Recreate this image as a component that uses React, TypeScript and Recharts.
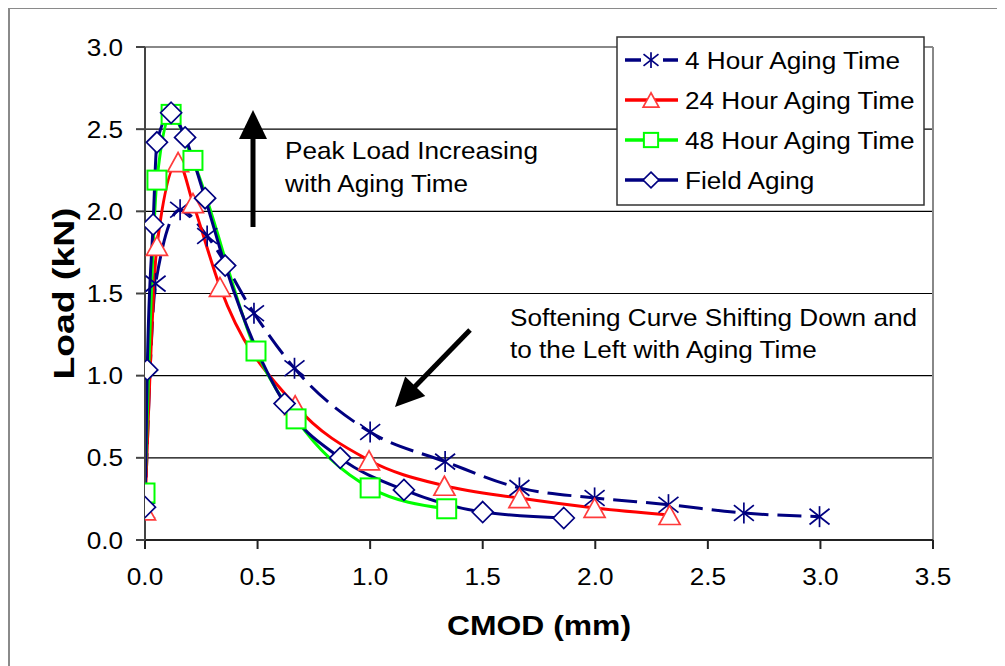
import { LineChart, Line, XAxis, YAxis, CartesianGrid, ReferenceLine } from 'recharts'

// CMOD (mm) vs Load (kN)
const fourHour = [
  { x: 0.0, y: 0.18 },
  { x: 0.047, y: 1.56 },
  { x: 0.156, y: 2.01 },
  { x: 0.276, y: 1.85 },
  { x: 0.484, y: 1.38 },
  { x: 0.664, y: 1.045 },
  { x: 1.0, y: 0.657 },
  { x: 1.333, y: 0.477 },
  { x: 1.663, y: 0.317 },
  { x: 1.997, y: 0.256 },
  { x: 2.325, y: 0.215 },
  { x: 2.66, y: 0.164 },
  { x: 2.996, y: 0.142 },
]

const twentyFourHour = [
  { x: 0.0, y: 0.18 },
  { x: 0.053, y: 1.79 },
  { x: 0.147, y: 2.3 },
  { x: 0.213, y: 2.05 },
  { x: 0.333, y: 1.54 },
  { x: 0.667, y: 0.82 },
  { x: 0.995, y: 0.485 },
  { x: 1.33, y: 0.33 },
  { x: 1.663, y: 0.255 },
  { x: 1.997, y: 0.195 },
  { x: 2.33, y: 0.152 },
]

const fortyEightHour = [
  { x: 0.0, y: 0.286 },
  { x: 0.053, y: 2.19 },
  { x: 0.116, y: 2.59 },
  { x: 0.213, y: 2.31 },
  { x: 0.493, y: 1.15 },
  { x: 0.671, y: 0.737 },
  { x: 1.0, y: 0.317 },
  { x: 1.34, y: 0.19 },
]

const fieldAging = [
  { x: 0.0, y: 0.2 },
  { x: 0.01, y: 1.035 },
  { x: 0.036, y: 1.92 },
  { x: 0.053, y: 2.42 },
  { x: 0.116, y: 2.6 },
  { x: 0.178, y: 2.45 },
  { x: 0.267, y: 2.08 },
  { x: 0.356, y: 1.67 },
  { x: 0.62, y: 0.83 },
  { x: 0.867, y: 0.5 },
  { x: 1.15, y: 0.305 },
  { x: 1.5, y: 0.17 },
  { x: 1.86, y: 0.134 },
]

const xTicks = [0, 0.5, 1.0, 1.5, 2.0, 2.5, 3.0, 3.5]
const yTicks = [0, 0.5, 1.0, 1.5, 2.0, 2.5, 3.0]

const seriesNames = ['4 Hour Aging Time', '24 Hour Aging Time', '48 Hour Aging Time', 'Field Aging']

const NAVY = '#000080'
const RED = '#ff0000'
const GREEN = '#00ff00'
const FONT = '"Liberation Sans", Arial, sans-serif'
// the source figure is slightly stretched sideways
const SX = 1.09

function Txt({ x, y, size = 24, anchor = 'start', dy, bold, children }: any) {
  return (
    <text
      transform={`translate(${x} ${y}) scale(${SX} 1)`}
      textAnchor={anchor}
      dy={dy}
      fontSize={size}
      fontWeight={bold ? 'bold' : 'normal'}
      fontFamily={FONT}
      fill="#000"
    >
      {children}
    </text>
  )
}

function Star({ cx, cy, s = 1 }: { cx: number; cy: number; s?: number }) {
  const w = 10 * s
  const h = 10.5 * s
  return (
    <g stroke={NAVY} strokeWidth={1.7} fill="none">
      <line x1={cx} y1={cy - h} x2={cx} y2={cy + h} />
      <line x1={cx - w} y1={cy - h * 0.75} x2={cx + w} y2={cy + h * 0.75} />
      <line x1={cx - w} y1={cy + h * 0.75} x2={cx + w} y2={cy - h * 0.75} />
    </g>
  )
}

function Triangle({ cx, cy, s = 1 }: { cx: number; cy: number; s?: number }) {
  const w = 10.5 * s
  const h = 9.5 * s
  return (
    <polygon
      points={`${cx},${cy - h} ${cx - w},${cy + h} ${cx + w},${cy + h}`}
      fill="#fff"
      stroke="#ff3b3b"
      strokeWidth={1.7}
    />
  )
}

function Square({ cx, cy, s = 1 }: { cx: number; cy: number; s?: number }) {
  const r = 9.5 * s
  return <rect x={cx - r} y={cy - r} width={r * 2} height={r * 2} fill="#fff" stroke={GREEN} strokeWidth={2} />
}

function Diamond({ cx, cy, s = 1 }: { cx: number; cy: number; s?: number }) {
  const r = 10.5 * s
  return (
    <polygon
      points={`${cx},${cy - r} ${cx + r},${cy} ${cx},${cy + r} ${cx - r},${cy}`}
      fill="#fff"
      stroke={NAVY}
      strokeWidth={1.7}
    />
  )
}

const markers = [Star, Triangle, Square, Diamond]
const lineColors = [NAVY, RED, GREEN, NAVY]

function dotFor(M: typeof Star) {
  return (p: any) => <M key={p.index} cx={p.cx} cy={p.cy} />
}

function XTick(p: any) {
  return (
    <Txt x={p.x} y={p.y} anchor="middle" dy="0.71em">
      {Number(p.payload.value).toFixed(1)}
    </Txt>
  )
}

function YTick(p: any) {
  return (
    <Txt x={p.x} y={p.y} anchor="end" dy="0.355em">
      {Number(p.payload.value).toFixed(1)}
    </Txt>
  )
}

function Arrow({ x1, y1, x2, y2 }: { x1: number; y1: number; x2: number; y2: number }) {
  const dx = x2 - x1
  const dy = y2 - y1
  const len = Math.hypot(dx, dy)
  const ux = dx / len
  const uy = dy / len
  const headLen = 29
  const halfW = 14
  const bx = x2 - ux * headLen
  const by = y2 - uy * headLen
  return (
    <g>
      <line x1={x1} y1={y1} x2={bx + ux * 2} y2={by + uy * 2} stroke="#000" strokeWidth={5} />
      <polygon
        points={`${x2},${y2} ${bx - uy * halfW},${by + ux * halfW} ${bx + uy * halfW},${by - ux * halfW}`}
        fill="#000"
      />
    </g>
  )
}

export default function App() {
  return (
    <div style={{ position: 'relative', width: 997, height: 658, fontFamily: FONT }}>
      <div
        style={{
          position: 'absolute',
          left: 0,
          top: -1,
          width: 997,
          height: 659,
          borderLeft: '2px solid #8a8a8a',
          borderTop: '2px solid #8a8a8a',
          boxSizing: 'border-box',
        }}
      />
      <LineChart width={997} height={658} margin={{ top: 39, right: 72, bottom: 46, left: 0 }}>
        <CartesianGrid horizontal vertical={false} stroke="#000" strokeWidth={1.2} />
        <XAxis
          type="number"
          dataKey="x"
          domain={[0, 3.5]}
          ticks={xTicks}
          height={80}
          tickSize={9}
          tickMargin={19}
          stroke="#222"
          strokeWidth={2}
          tick={XTick}
          allowDataOverflow
          label={{
            content: ({ viewBox }: any) => (
              <text
                x={viewBox.x + viewBox.width / 2}
                y={627}
                textAnchor="middle"
                fontSize={28}
                fontWeight="bold"
                fontFamily={FONT}
                fill="#000"
                textLength={184}
                lengthAdjust="spacingAndGlyphs"
              >
                CMOD (mm)
              </text>
            ),
          }}
        />
        <YAxis
          type="number"
          dataKey="y"
          domain={[0, 3]}
          ticks={yTicks}
          width={137}
          tickSize={9}
          tickMargin={13}
          stroke="#444"
          strokeWidth={2}
          tick={YTick}
          allowDataOverflow
          label={{
            content: ({ viewBox }: any) => {
              const cx = 56
              const cy = viewBox.y + viewBox.height / 2
              return (
                <text
                  x={cx}
                  y={cy}
                  transform={`rotate(-90 ${cx} ${cy})`}
                  textAnchor="middle"
                  dominantBaseline="central"
                  fontSize={29}
                  fontWeight="bold"
                  fontFamily={FONT}
                  fill="#000"
                  textLength={172}
                  lengthAdjust="spacingAndGlyphs"
                >
                  Load (kN)
                </text>
              )
            },
          }}
        />
        <ReferenceLine y={3} stroke="#888" strokeWidth={2} />
        <ReferenceLine x={3.5} stroke="#888" strokeWidth={2} />
        <Line
          data={fourHour}
          dataKey="y"
          type="monotone"
          stroke={NAVY}
          strokeWidth={3}
          strokeDasharray="24 9"
          dot={dotFor(Star)}
          activeDot={false}
          isAnimationActive={false}
        />
        <Line
          data={twentyFourHour}
          dataKey="y"
          type="monotone"
          stroke={RED}
          strokeWidth={3}
          dot={dotFor(Triangle)}
          activeDot={false}
          isAnimationActive={false}
        />
        <Line
          data={fortyEightHour}
          dataKey="y"
          type="monotone"
          stroke={GREEN}
          strokeWidth={3}
          dot={dotFor(Square)}
          activeDot={false}
          isAnimationActive={false}
        />
        <Line
          data={fieldAging}
          dataKey="y"
          type="monotone"
          stroke={NAVY}
          strokeWidth={3}
          dot={dotFor(Diamond)}
          activeDot={false}
          isAnimationActive={false}
        />
      </LineChart>

      {/* annotations and legend overlay, page coords minus the 8px body margin */}
      <svg
        width={997}
        height={658}
        style={{ position: 'absolute', left: 0, top: 0, pointerEvents: 'none' }}
        fontFamily={FONT}
      >
        <Arrow x1={245} y1={219} x2={245} y2={102} />
        <Txt x={277} y={151}>Peak Load Increasing</Txt>
        <Txt x={277} y={184}>with Aging Time</Txt>

        <Arrow x1={462} y1={322} x2={387} y2={399} />
        <Txt x={502} y={318}>Softening Curve Shifting Down and</Txt>
        <Txt x={502} y={350}>to the Left with Aging Time</Txt>

        <rect x={609} y={29} width={307} height={168} fill="#fff" stroke="#333" strokeWidth={1.5} />
        {seriesNames.map((name, i) => {
          const cy = 52 + i * 40
          const M = markers[i]
          return (
            <g key={name}>
              {i === 0 ? (
                <g stroke={NAVY} strokeWidth={3.5}>
                  <line x1={617} y1={cy} x2={633} y2={cy} />
                  <line x1={655} y1={cy} x2={670} y2={cy} />
                </g>
              ) : (
                <line x1={617} y1={cy} x2={670} y2={cy} stroke={lineColors[i]} strokeWidth={3.5} />
              )}
              <M cx={643} cy={cy} s={0.75} />
              <Txt x={677} y={cy + 8.5}>{name}</Txt>
            </g>
          )
        })}
      </svg>
    </div>
  )
}
